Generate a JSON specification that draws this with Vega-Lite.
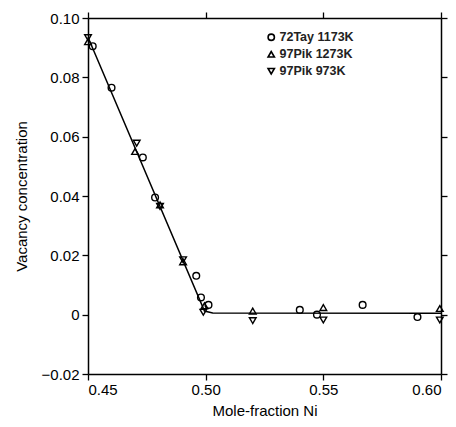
{
  "$schema": "https://vega.github.io/schema/vega-lite/v6.json",
  "width": 353,
  "height": 356,
  "autosize": "none",
  "padding": {"left": 88, "top": 18, "right": 15, "bottom": 53},
  "background": "white",
  "config": {
    "font": "Liberation Sans",
    "view": {"stroke": null},
    "axis": {
      "domainColor": "black", "domainWidth": 1.5, "tickColor": "black", "tickWidth": 1.3,
      "tickSize": 6, "grid": false, "labelColor": "black", "titleColor": "black",
      "labelFont": "Liberation Sans", "titleFont": "Liberation Sans",
      "labelFontSize": 15, "titleFontSize": 15, "titleFontWeight": "normal"
    }
  },
  "datasets": {
    "pts": [
      {"x": 0.452, "y": 0.0905, "series": "72Tay 1173K"},
      {"x": 0.460, "y": 0.0765, "series": "72Tay 1173K"},
      {"x": 0.4733, "y": 0.0530, "series": "72Tay 1173K"},
      {"x": 0.4785, "y": 0.0395, "series": "72Tay 1173K"},
      {"x": 0.4960, "y": 0.0131, "series": "72Tay 1173K"},
      {"x": 0.4980, "y": 0.0058, "series": "72Tay 1173K"},
      {"x": 0.5012, "y": 0.0033, "series": "72Tay 1173K"},
      {"x": 0.5400, "y": 0.0016, "series": "72Tay 1173K"},
      {"x": 0.5473, "y": 0.0000, "series": "72Tay 1173K"},
      {"x": 0.5667, "y": 0.0033, "series": "72Tay 1173K"},
      {"x": 0.5900, "y": -0.0008, "series": "72Tay 1173K"},
      {"x": 0.4500, "y": 0.0920, "series": "97Pik 1273K"},
      {"x": 0.4700, "y": 0.0550, "series": "97Pik 1273K"},
      {"x": 0.4806, "y": 0.0370, "series": "97Pik 1273K"},
      {"x": 0.4904, "y": 0.0178, "series": "97Pik 1273K"},
      {"x": 0.4995, "y": 0.0030, "series": "97Pik 1273K"},
      {"x": 0.5200, "y": 0.0012, "series": "97Pik 1273K"},
      {"x": 0.5500, "y": 0.0024, "series": "97Pik 1273K"},
      {"x": 0.5995, "y": 0.0021, "series": "97Pik 1273K"},
      {"x": 0.4500, "y": 0.0934, "series": "97Pik 973K"},
      {"x": 0.4707, "y": 0.0578, "series": "97Pik 973K"},
      {"x": 0.4806, "y": 0.0365, "series": "97Pik 973K"},
      {"x": 0.4904, "y": 0.0185, "series": "97Pik 973K"},
      {"x": 0.4990, "y": 0.0008, "series": "97Pik 973K"},
      {"x": 0.5200, "y": -0.0020, "series": "97Pik 973K"},
      {"x": 0.5500, "y": -0.0018, "series": "97Pik 973K"},
      {"x": 0.5995, "y": -0.0018, "series": "97Pik 973K"}
    ],
    "fit": [
      {"x": 0.45, "y": 0.0935},
      {"x": 0.4995, "y": 0.0012},
      {"x": 0.503, "y": 0.0006},
      {"x": 0.60, "y": 0.0005}
    ]
  },
  "layer": [
    {
      "data": {"name": "fit"},
      "mark": {"type": "line", "color": "black", "strokeWidth": 1.5},
      "encoding": {
        "x": {"field": "x", "type": "quantitative", "scale": {"domain": [0.45, 0.6], "nice": false, "zero": false},
              "axis": {"orient": "top", "values": [0.45, 0.5, 0.55, 0.6], "labels": false, "title": null}},
        "y": {"field": "y", "type": "quantitative", "scale": {"domain": [-0.02, 0.1], "nice": false, "zero": false},
              "axis": {"orient": "right", "values": [-0.02, 0, 0.02, 0.04, 0.06, 0.08, 0.1], "labels": false, "title": null}}
      }
    },
    {
      "data": {"name": "pts"},
      "mark": {"type": "point", "filled": false, "color": "black", "strokeWidth": 1.4, "size": 45, "opacity": 1},
      "encoding": {
        "x": {"field": "x", "type": "quantitative",
              "axis": {"orient": "bottom", "values": [0.45, 0.5, 0.55, 0.6], "format": ".2f", "title": "Mole-fraction Ni", "labelPadding": 2, "titlePadding": 6}},
        "y": {"field": "y", "type": "quantitative",
              "axis": {"orient": "left", "values": [-0.02, 0, 0.02, 0.04, 0.06, 0.08, 0.1], "labelExpr": "datum.value == 0 ? '0' : format(datum.value, '.2f')", "title": "Vacancy concentration", "labelPadding": 3, "titlePadding": 12}},
        "shape": {"field": "series", "type": "nominal",
                  "scale": {"domain": ["72Tay 1173K", "97Pik 1273K", "97Pik 973K"], "range": ["circle", "triangle-up", "triangle-down"]},
                  "legend": {"orient": "none", "legendX": 177, "legendY": 13, "title": null, "padding": 0,
                             "labelFontSize": 12.5, "labelFontWeight": "bold", "labelColor": "#222", "labelFont": "Liberation Sans",
                             "symbolStrokeColor": "black", "symbolFillColor": "transparent", "symbolStrokeWidth": 1.6, "symbolSize": 40,
                             "rowPadding": 4, "labelOffset": 2}}
      }
    }
  ],
  "resolve": {"axis": {"x": "independent", "y": "independent"}}
}
